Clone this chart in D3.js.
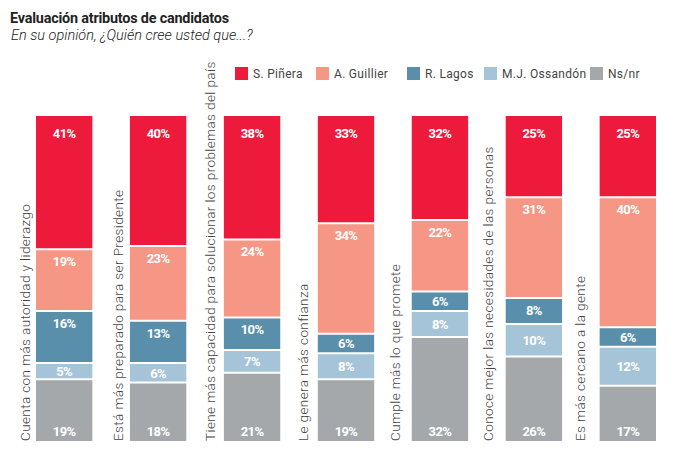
<!DOCTYPE html>
<html>
<head>
<meta charset="utf-8">
<script src="https://cdn.jsdelivr.net/npm/d3@7"></script>
<style>
  html, body { margin: 0; padding: 0; background: #fff; }
  svg { display: block; }
</style>
</head>
<body>
<svg id="chart" width="674" height="460"></svg>
<script>
const categories = [
  "Cuenta con más autoridad y liderazgo",
  "Está más preparado para ser Presidente",
  "Tiene más capacidad para solucionar los problemas del país",
  "Le genera más confianza",
  "Cumple más lo que promete",
  "Conoce mejor las necesidades de las personas",
  "Es más cercano a la gente"
];
const seriesNames = ["S. Piñera", "A. Guillier", "R. Lagos", "M.J. Ossandón", "Ns/nr"];
const pinera    = [41, 40, 38, 33, 32, 25, 25];
const guillier  = [19, 23, 24, 34, 22, 31, 40];
const lagos     = [16, 13, 10, 6, 6, 8, 6];
const ossandon  = [5, 6, 7, 8, 8, 10, 12];
const nsnr      = [19, 18, 21, 19, 32, 26, 17];
const colors = ["#EE1A3B", "#F69785", "#5A8FAB", "#A6C4D8", "#A4A8AB"];

const seriesValues = [pinera, guillier, lagos, ossandon, nsnr];
const rows = categories.map((c, i) => {
  const r = { cat: c };
  seriesNames.forEach((s, k) => r[s] = seriesValues[k][i]);
  return r;
});
// stack from the bottom: Ns/nr first, Piñera on top
const stackOrder = seriesNames.slice().reverse();
const stacked = d3.stack().keys(stackOrder)(rows);
const colorOf = d3.scaleOrdinal().domain(seriesNames).range(colors);

const svg = d3.select("#chart");
const FONT = "Roboto, 'Open Sans', sans-serif";

// Title
svg.append("text").attr("x", 10).attr("y", 23)
  .attr("font-family", FONT).attr("font-weight", 700).attr("font-size", 14.4)
  .attr("fill", "#222").attr("letter-spacing", -0.2)
  .text("Evaluación atributos de candidatos");
svg.append("text").attr("x", 11).attr("y", 40)
  .attr("font-family", FONT).attr("font-style", "italic").attr("font-weight", 300).attr("font-size", 14.5)
  .attr("fill", "#222").attr("letter-spacing", 0)
  .text("En su opinión, ¿Quién cree usted que...?");

// Scales
const x = d3.scaleBand().domain(categories).range([36, 656]).paddingInner(0.4).paddingOuter(0);
const xLabel = d3.scalePoint().domain(categories).range([30, 585]);
const y = d3.scaleLinear().domain([0, 100]).range([441, 116]);

// Legend
const legendX = d3.scaleOrdinal().domain(seriesNames).range([235, 316, 407, 484, 590]);
const lg = svg.append("g");
seriesNames.forEach(s => {
  lg.append("rect").attr("x", legendX(s)).attr("y", 67).attr("width", 13).attr("height", 13)
    .attr("fill", colorOf(s));
  lg.append("text").attr("x", legendX(s) + 18).attr("y", 78)
    .attr("font-family", FONT).attr("font-size", 12).attr("fill", "#444")
    .attr("letter-spacing", 0.3)
    .text(s);
});

// Bars
const bottomKey = stackOrder[0];
const topKey = stackOrder[stackOrder.length - 1];
const layers = svg.append("g").selectAll("g").data(stacked).join("g")
  .attr("fill", d => colorOf(d.key));

layers.selectAll("rect").data(d => d.map(p => Object.assign(p, { key: d.key }))).join("rect")
  .attr("x", d => x(d.data.cat))
  .attr("width", x.bandwidth())
  .attr("y", d => y(d[1]) + (d.key === topKey ? 0 : 1))
  .attr("height", d => (y(d[0]) - (d.key === bottomKey ? 0 : 1)) - (y(d[1]) + (d.key === topKey ? 0 : 1)));

// Value labels
const vl = svg.append("g");
stacked.forEach(layer => {
  layer.forEach(p => {
    const top = y(p[1]), bot = y(p[0]);
    const mid = (top + bot) / 2;
    let cy;
    if (layer.key === topKey) cy = top + 17;
    else if (layer.key === bottomKey) cy = bot - 10;
    else if (layer.key === "M.J. Ossandón") cy = mid;
    else cy = Math.min(top + 12, mid);
    vl.append("text")
      .attr("x", x(p.data.cat) + x.bandwidth() / 2)
      .attr("y", cy + 4.8)
      .attr("text-anchor", "middle")
      .attr("font-family", FONT).attr("font-weight", 700).attr("font-size", 13)
      .attr("letter-spacing", -0.6)
      .attr("fill", "#fff")
      .text((p[1] - p[0]) + "%");
  });
});

// Category labels (rotated)
svg.append("g").selectAll("text").data(categories).join("text")
  .attr("transform", d => `translate(${xLabel(d)},441) rotate(-90)`)
  .attr("font-family", FONT).attr("font-weight", 300).attr("font-size", 13.5)
  .attr("fill", "#444").attr("letter-spacing", 0.4)
  .text(d => d);
</script>
</body>
</html>
